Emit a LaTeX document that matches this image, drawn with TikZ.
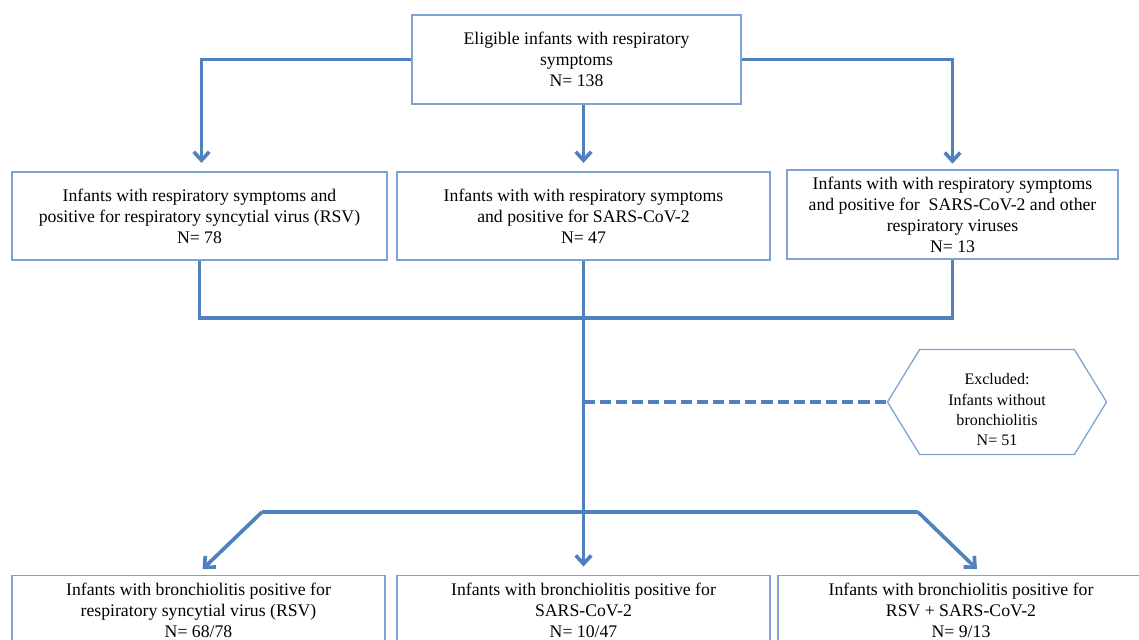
\documentclass[tikz,border=0pt]{standalone}
\usepackage{fontspec}
\setmainfont{Liberation Serif}
\usetikzlibrary{arrows.meta,positioning,calc,shapes.symbols}
\definecolor{flowblue}{RGB}{79,129,189}
\definecolor{edgeblue}{RGB}{125,163,208}

\begin{document}
\begin{tikzpicture}[x=0.025cm, y=-0.025cm,
    stepbox/.style={rectangle, draw=edgeblue, line width=0.9pt, fill=white,
        align=center, font=\fontsize{12.6}{15}\selectfont, inner sep=0pt},
    exclbox/.style={signal, signal to=east and west, signal pointer angle=117,
        draw=edgeblue, line width=0.9pt, fill=white,
        align=center, font=\fontsize{11.4}{14.4}\selectfont, inner sep=0pt},
    flow/.style={draw=flowblue, line width=2.6pt},
    arr/.style={flow, -{Straight Barb[length=6pt,width=11pt]}, shorten >=6pt}
]
    \useasboundingbox (0,0) rectangle (1139,639);
    \clip (0,0) rectangle (1139,639);

    % Top box
    \node[stepbox, minimum width=8.225cm, minimum height=2.225cm] (top) at (576.5,59.5)
        {Eligible infants with respiratory\\symptoms\\N= 138};

    % Infants with respiratory symptoms
    \node[stepbox, minimum width=9.375cm, minimum height=2.2cm] (rsv) at (199.5,216)
        {Infants with respiratory symptoms and\\positive for respiratory syncytial virus (RSV)\\N= 78};
    \node[stepbox, minimum width=9.325cm, minimum height=2.2cm] (sars) at (583.5,216)
        {Infants with with respiratory symptoms\\and positive for SARS-CoV-2\\N= 47};
    \node[stepbox, minimum width=8.275cm, minimum height=2.225cm] (other) at (952.5,214.5)
        {Infants with with respiratory symptoms\\and positive for\ \ SARS-CoV-2 and other\\respiratory viruses\\N= 13};

    % Excluded
    \node[exclbox, minimum width=5.475cm, minimum height=2.625cm] (excl) at (997,402)
        {\rule{0pt}{19pt}Excluded:\\Infants without\\bronchiolitis\\N= 51};

    % Infants with bronchiolitis
    \node[stepbox, anchor=north, minimum width=9.325cm, inner ysep=5pt] (brsv) at (198.5,575)
        {Infants with bronchiolitis positive for\\respiratory syncytial virus (RSV)\\N= 68/78};
    \node[stepbox, anchor=north, minimum width=9.325cm, inner ysep=5pt] (bsars) at (583.5,575)
        {Infants with bronchiolitis positive for\\SARS-CoV-2\\N= 10/47};
    \node[stepbox, anchor=north, minimum width=9.15cm, inner ysep=5pt] (bboth) at (961,575)
        {Infants with bronchiolitis positive for\\RSV + SARS-CoV-2\\N= 9/13};

    % Connectors
    \coordinate (merge) at (584,318);
    \coordinate (bl) at (262,512);
    \coordinate (br) at (918,512);
    \draw[arr] (top.west) -| ($(rsv.north)+(2,0)$);
    \draw[arr] (top.south -| sars.north) -- (sars.north);
    \draw[arr, shorten >=4pt] (top.east) -| (other.north);
    \draw[flow] (rsv.south) |- (merge) -| (other.south);
    \draw[flow, dash pattern=on 8pt off 3.5pt, line width=2.2pt] (sars.south |- excl.west) -- (excl.west);
    \draw[arr] (sars.south) -- (bsars.north);
    \draw[flow] (bl) -- (br);
    \draw[arr] (bl) -- ($(brsv.north)+(-2,0)$);
    \draw[arr] (br) -- ($(bboth.north)+(22,0)$);
\end{tikzpicture}
\end{document}
